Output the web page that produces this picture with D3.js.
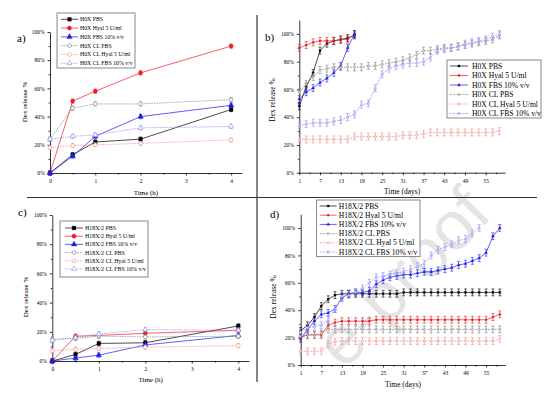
<!DOCTYPE html>
<html lang="en">
<head>
<meta charset="UTF-8">
<title>Dex release</title>
<script src="https://d3js.org/d3.v7.min.js"></script>
<style>
  body { margin: 0; background: #fff; }
  svg { font-family: "Liberation Serif", "Times New Roman", serif; }
  .axis path, .axis line { stroke: #000; stroke-width: 0.8; }
  .axis text { fill: #000; }
</style>
</head>
<body>
<svg id="chart" width="554" height="396"></svg>
<script>
// ---- data ----
const hours = [0, 0.5, 1, 2, 4];
const daysShort = [1, 3, 5, 7, 9, 11, 13, 15, 17];
const daysLong = [1, 3, 5, 7, 9, 11, 13, 15, 17, 19, 21, 23, 25, 27, 29, 31, 33, 35, 37, 39, 41, 43, 45, 47, 49, 51, 53, 55, 57, 59];
const daysD27 = [1, 3, 5, 7, 9, 11, 13, 15, 17, 19, 21, 23, 25, 27, 29, 31, 33, 35, 37, 39, 41, 43, 45, 47, 49, 51, 53];

const hourTicks = [0, 1, 2, 3, 4];
const dayTicks = [1, 7, 13, 19, 25, 31, 37, 43, 49, 55];
const pctTicks = [0, 20, 40, 60, 80, 100];

// panel a (H0X, hours)
const aPBS = [0, 13, 22, 24, 45];
const aHyal = [0, 51, 58, 71, 90];
const aFBS = [0, 12, 26, 40, 48];
const aCLPBS = [24, 46, 49, 49, 52];
const aCLHyal = [18, 19.5, 20, 21, 23.5];
const aCLFBS = [24, 26, 27, 32, 33];

// panel b (H0X, days)
const bPBS = [48, 62, 72, 88, 93, 95, 96, 97, 99];
const bHyal = [90, 92, 94, 95, 95, 95, 96, 96, 100];
const bFBS = [53, 58, 61, 65, 68, 72, 77, 90, 100];
const bCLPBS = [58, 64, 69, 74, 75, 76, 76, 76, 76, 76, 77, 77, 78, 79, 80, 81, 83, 85, 88, 88, 89, 90, 90, 91, 92, 93, 94, 95, 96, 99];
const bCLHyal = [24, 24, 24, 24, 24, 24, 24, 24, 26, 26, 26, 26, 26, 26, 26, 27, 27, 27, 28, 29, 29, 29, 29, 29, 29, 29, 29, 29, 29, 30];
const bCLFBS = [34, 35, 36, 36, 36, 37, 38, 40, 42, 49, 50, 61, 71, 75, 77, 78, 79, 79, 80, 83, 88, 89, 90, 91, 93, 94, 95, 96, 98, 100];

// panel c (H18X/2, hours)
const cPBS = [0, 4.5, 12, 12.5, 24];
const cHyal = [0, 17, 17.5, 19, 21];
const cFBS = [0, 2, 4, 11, 17.5];
const cCLPBS = [15, 15.5, 17, 16.5, 17];
const cCLHyal = [7, 8, 8.5, 9.5, 10.5];
const cCLFBS = [14, 16, 18.5, 21.5, 21];

// panel d (H18X/2, days)
const dPBS = [25, 29, 35, 43, 48, 51, 52, 52, 52, 52, 52, 52, 52, 52, 52, 53, 53, 53, 53, 53, 53, 53, 53, 53, 53, 53, 53, 53, 53, 53];
const dHyal = [20, 22, 22, 22, 29, 31, 32, 32, 32, 32, 32, 33, 33, 33, 33, 33, 33, 33, 33, 33, 33, 33, 33, 33, 33, 33, 33, 33, 35, 37];
const dFBS = [19, 26, 32, 37, 38, 41, 49, 52, 53, 53, 54, 59, 62, 64, 65, 66, 66, 67, 68, 68, 69, 70, 71, 73, 74, 76, 78, 82, 94, 100];
const dCLPBS = [21, 22, 22, 23, 26, 26, 26, 26, 26, 26, 26, 26, 26, 26, 26, 26, 26, 26, 26, 26, 26, 26, 26, 26, 26, 26, 26, 26, 26, 26];
const dCLHyal = [10, 10, 10, 10, 15, 17, 17.5, 17.5, 17.5, 17.5, 17.5, 17.5, 17.5, 17.5, 17.5, 17.5, 17.5, 17.5, 17.5, 17.5, 17.5, 17.5, 17.5, 17.5, 17.5, 17.5, 17.5, 17.5, 17.5, 19];
const dCLFBS = [24, 27, 28, 29, 33, 41, 50, 51, 53, 56, 60, 64, 65, 66, 67, 68, 70, 72, 74, 80, 84, 86, 88, 91, 92, 96, 100];

const errShort = 1.5;
const errLong = 2.5;

const namesA = ["H0X PBS", "H0X Hyal 5 U/ml", "H0X FBS 10% v/v", "H0X CL PBS", "H0X CL Hyal 5 U/ml", "H0X CL FBS 10% v/v"];
const namesC = ["H18X/2 PBS", "H18X/2 Hyal 5 U/ml", "H18X/2 FBS 10% v/v", "H18X/2 CL PBS", "H18X/2 CL Hyal 5 U/ml", "H18X/2 CL FBS 10% v/v"];

// ---- styles ----
const colors = ["#000000", "#ee1c24", "#1c1cf0", "#7f7f7f", "#f28a8a", "#8a8af5"];
const shapes = [d3.symbolSquare, d3.symbolCircle, d3.symbolTriangle, d3.symbolCircle, d3.symbolCircle, d3.symbolTriangle];

const svg = d3.select("#chart");

// watermark (only its visible part)
svg.append("text")
    .attr("transform", "translate(494,216) rotate(-46)")
    .attr("text-anchor", "end")
    .attr("font-family", "Liberation Sans, Arial, sans-serif")
    .attr("font-size", 68)
    .attr("fill", "#e4e4e4")
    .text("e-proof");

// separators
svg.append("line").attr("x1", 257).attr("x2", 257).attr("y1", 15).attr("y2", 382)
    .attr("stroke", "#333").attr("stroke-width", 1.2);
svg.append("line").attr("x1", 27).attr("x2", 537).attr("y1", 197.5).attr("y2", 197.5)
    .attr("stroke", "#333").attr("stroke-width", 1.2);

function styleAxis(a, size) {
    a.attr("font-family", null).attr("font-size", null);
    a.selectAll("text").attr("font-size", size);
}

function panel(p) {
    const g = svg.append("g");
    const x = d3.scaleLinear().domain(p.xDomain).range(p.xRange);
    const y = d3.scaleLinear().domain(p.yDomain).range(p.yRange);

    // x axis
    g.append("g").attr("class", "axis")
        .attr("transform", `translate(0,${p.yRange[0]})`)
        .call(d3.axisBottom(x).tickValues(p.xTicks).tickSize(2.5).tickSizeOuter(0).tickFormat(d3.format("d")))
        .call(a => styleAxis(a, p.tickFont))
        .call(a => a.selectAll("text").attr("dy", "0.9em"));
    g.append("g").attr("class", "axis")
        .attr("transform", `translate(0,${p.yRange[0]})`)
        .call(d3.axisBottom(x).tickValues(p.xMinor).tickSize(1.5).tickFormat(""))
        .call(a => a.select(".domain").remove());

    // y axis
    g.append("g").attr("class", "axis")
        .attr("transform", `translate(${p.xRange[0]},0)`)
        .call(d3.axisLeft(y).tickValues(pctTicks).tickSize(2.5).tickSizeOuter(0).tickFormat(d => d + "%"))
        .call(a => styleAxis(a, p.tickFont));
    g.append("g").attr("class", "axis")
        .attr("transform", `translate(${p.xRange[0]},0)`)
        .call(d3.axisLeft(y).tickValues(d3.range(10, p.yDomain[1], 20)).tickSize(1.5).tickFormat(""))
        .call(a => a.select(".domain").remove());

    // titles
    g.append("text")
        .attr("x", (p.xRange[0] + p.xRange[1]) / 2).attr("y", p.xTitleY)
        .attr("text-anchor", "middle").attr("font-size", p.titleFont)
        .text(p.xTitle);
    g.append("text")
        .attr("transform", `translate(${p.yTitleX},${p.yTitleMid}) rotate(-90)`)
        .attr("text-anchor", "middle").attr("font-size", p.titleFont)
        .text("Dex release %");
    g.append("text")
        .attr("x", p.letter[0]).attr("y", p.letter[1])
        .attr("font-size", 11).text(p.letter[2]);

    // series
    p.series.forEach((s, i) => {
        const pts = s.x.map((xv, k) => ({ x: xv, y: s.y[k] }));
        const open = i >= 3;
        const sg = g.append("g");
        sg.append("path")
            .datum(pts)
            .attr("fill", "none")
            .attr("stroke", colors[i])
            .attr("stroke-width", p.lineWidth)
            .attr("stroke-dasharray", open ? p.dash : null)
            .attr("d", d3.line().x(d => x(d.x)).y(d => y(d.y)));
        // error bars
        const eb = sg.selectAll("g.eb").data(pts).join("g")
            .attr("stroke", colors[i]).attr("stroke-width", 0.6);
        eb.append("line")
            .attr("x1", d => x(d.x)).attr("x2", d => x(d.x))
            .attr("y1", d => y(d.y - p.err)).attr("y2", d => y(d.y + p.err));
        [-1, 1].forEach(sg2 => {
            eb.append("line")
                .attr("x1", d => x(d.x) - p.cap).attr("x2", d => x(d.x) + p.cap)
                .attr("y1", d => y(d.y + sg2 * p.err)).attr("y2", d => y(d.y + sg2 * p.err));
        });
        // markers
        sg.selectAll("path.m").data(pts).join("path")
            .attr("class", "m")
            .attr("transform", d => `translate(${x(d.x)},${y(d.y)})`)
            .attr("d", d3.symbol().type(shapes[i]).size(open ? p.markOpen : p.mark))
            .attr("fill", open ? "#fff" : colors[i])
            .attr("stroke", colors[i])
            .attr("stroke-width", open ? 0.6 : 0.3);
    });

    // legend
    const L = p.legend;
    const lg = g.append("g");
    lg.append("rect")
        .attr("x", L.x).attr("y", L.y).attr("width", L.w).attr("height", L.h)
        .attr("fill", "#fff").attr("stroke", "#555").attr("stroke-width", 0.7);
    p.series.forEach((s, i) => {
        const open = i >= 3;
        const ry = L.y + L.first + i * L.step;
        lg.append("line")
            .attr("x1", L.x + L.l0).attr("x2", L.x + L.l1)
            .attr("y1", ry).attr("y2", ry)
            .attr("stroke", colors[i]).attr("stroke-width", p.lineWidth)
            .attr("stroke-dasharray", open ? p.dash : null);
        lg.append("path")
            .attr("transform", `translate(${L.x + (L.l0 + L.l1) / 2},${ry})`)
            .attr("d", d3.symbol().type(shapes[i]).size(open ? p.markOpen : p.mark))
            .attr("fill", open ? "#fff" : colors[i])
            .attr("stroke", colors[i]).attr("stroke-width", open ? 0.6 : 0.3);
        lg.append("text")
            .attr("x", L.x + L.tx).attr("y", ry).attr("dy", "0.33em")
            .attr("font-size", L.font)
            .text(s.name);
    });
}

panel({
    xDomain: [0, 4.24], xRange: [50, 242], yDomain: [0, 100], yRange: [173, 32],
    xTicks: hourTicks, xMinor: [0.5, 1.5, 2.5, 3.5], tickFont: 5.5, titleFont: 7,
    xTitle: "Time (h)", xTitleY: 195, yTitleX: 27, yTitleMid: 102, letter: [17, 42, "a)"],
    lineWidth: 0.7, dash: "1.5,1", err: errShort, cap: 1.6, mark: 14, markOpen: 11,
    legend: { x: 57, y: 13, w: 78, h: 55, first: 6.3, step: 8.8, l0: 4, l1: 21, tx: 23, font: 5.8 },
    series: [
        { name: namesA[0], x: hours, y: aPBS },
        { name: namesA[1], x: hours, y: aHyal },
        { name: namesA[2], x: hours, y: aFBS },
        { name: namesA[3], x: hours, y: aCLPBS },
        { name: namesA[4], x: hours, y: aCLHyal },
        { name: namesA[5], x: hours, y: aCLFBS }
    ]
});

panel({
    xDomain: [1, 60.6], xRange: [299.3, 505], yDomain: [0, 110], yRange: [172.7, 20.1],
    xTicks: dayTicks, xMinor: [4, 10, 16, 22, 28, 34, 40, 46, 52, 58], tickFont: 5.5, titleFont: 7.5,
    xTitle: "Time (days)", xTitleY: 194, yTitleX: 275, yTitleMid: 100, letter: [265, 41, "b)"],
    lineWidth: 0.7, dash: "2,1.2", err: errLong, cap: 1.5, mark: 4, markOpen: 3,
    legend: { x: 447, y: 60, w: 94, h: 58, first: 6, step: 9.5, l0: 3, l1: 21, tx: 25, font: 7.6 },
    series: [
        { name: namesA[0], x: daysShort, y: bPBS },
        { name: namesA[1], x: daysShort, y: bHyal },
        { name: namesA[2], x: daysShort, y: bFBS },
        { name: namesA[3], x: daysLong, y: bCLPBS },
        { name: namesA[4], x: daysLong, y: bCLHyal },
        { name: namesA[5], x: daysLong, y: bCLFBS }
    ]
});

panel({
    xDomain: [0, 4.23], xRange: [52.3, 249], yDomain: [0, 100], yRange: [361, 215],
    xTicks: hourTicks, xMinor: [0.5, 1.5, 2.5, 3.5], tickFont: 5.5, titleFont: 7,
    xTitle: "Time (h)", xTitleY: 382, yTitleX: 28, yTitleMid: 297, letter: [18, 216, "c)"],
    lineWidth: 0.7, dash: "1.5,1", err: errShort, cap: 1.6, mark: 14, markOpen: 11,
    legend: { x: 60, y: 221, w: 88, h: 56, first: 7, step: 8.2, l0: 5, l1: 23, tx: 25, font: 5.9 },
    series: [
        { name: namesC[0], x: hours, y: cPBS },
        { name: namesC[1], x: hours, y: cHyal },
        { name: namesC[2], x: hours, y: cFBS },
        { name: namesC[3], x: hours, y: cCLPBS },
        { name: namesC[4], x: hours, y: cCLHyal },
        { name: namesC[5], x: hours, y: cCLFBS }
    ]
});

panel({
    xDomain: [1, 60.6], xRange: [300.7, 505.3], yDomain: [0, 110], yRange: [365, 214.3],
    xTicks: dayTicks, xMinor: [4, 10, 16, 22, 28, 34, 40, 46, 52, 58], tickFont: 5.5, titleFont: 7.5,
    xTitle: "Time (days)", xTitleY: 387, yTitleX: 276, yTitleMid: 297, letter: [270, 218, "d)"],
    lineWidth: 0.7, dash: "2,1.2", err: errLong, cap: 1.5, mark: 4, markOpen: 3,
    legend: { x: 316.7, y: 200, w: 103.3, h: 56.7, first: 6, step: 9.2, l0: 3, l1: 20, tx: 22, font: 7.6 },
    series: [
        { name: namesC[0], x: daysLong, y: dPBS },
        { name: namesC[1], x: daysLong, y: dHyal },
        { name: namesC[2], x: daysLong, y: dFBS },
        { name: namesC[3], x: daysLong, y: dCLPBS },
        { name: namesC[4], x: daysLong, y: dCLHyal },
        { name: namesC[5], x: daysD27, y: dCLFBS }
    ]
});
</script>
</body>
</html>
